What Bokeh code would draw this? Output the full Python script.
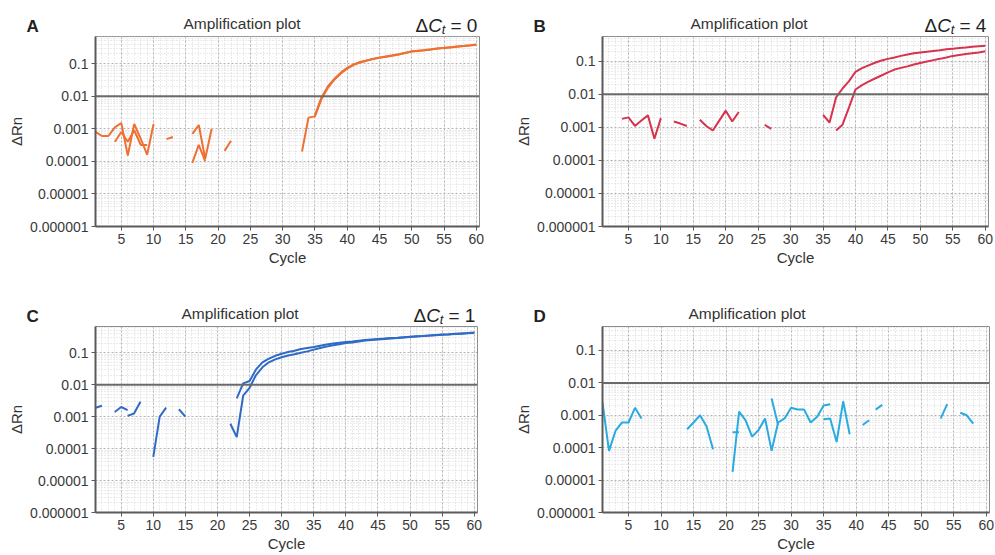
from bokeh.plotting import figure
from bokeh.models import Range1d, FixedTicker, CustomJSTickFormatter, Span, Label
from bokeh.layouts import column, row
from bokeh.core.properties import value
from bokeh.embed import file_html
from bokeh.resources import INLINE

N = float("nan")
cycles = list(range(1, 61))
x_ticks = [5, 10, 15, 20, 25, 30, 35, 40, 45, 50, 55, 60]
y_ticks = [1e-6, 1e-5, 1e-4, 1e-3, 1e-2, 1e-1]
threshold = 0.01
panel_letters = ["A", "B", "C", "D"]
delta_ct = ["0", "4", "1", None]

# Panel A (orange)
a1 = [8e-4, 6e-4, 6e-4, 1.1e-3, 1.5e-3, 1.5e-4, 1.4e-3, 5e-4, 1.6e-4, 1.4e-3,
      N, 4.8e-4, 5.6e-4, N, N, 7e-4, 1.3e-3, 1.2e-4, 1e-3, N,
      2.1e-4, 4.3e-4, N, N, N, N, N, N, N, N,
      N, N, 2e-4, 2.2e-3, 2.4e-3, 8e-3, 0.018, 0.032, 0.05, 0.07,
      0.092, 0.108, 0.122, 0.138, 0.15, 0.162, 0.175, 0.19, 0.21, 0.235,
      0.245, 0.255, 0.27, 0.29, 0.30, 0.315, 0.33, 0.345, 0.36, 0.38]
a2 = [N, N, N, 4e-4, 8e-4, 4e-4, 9e-4, 3.2e-4, 3.2e-4, N,
      N, N, N, N, N, 9e-5, 3.2e-4, 1e-4, N, N,
      N, N, N, N, N, N, N, N, N, N,
      N, N, N, N, 2.6e-3, 9e-3, 0.02, 0.034, 0.053, 0.074,
      0.095, 0.112, 0.126, 0.14, 0.153, 0.166, 0.18, 0.195, 0.215, 0.238,
      0.25, 0.262, 0.275, 0.292, 0.305, 0.32, 0.335, 0.35, 0.365, 0.385]

# Panel B (crimson)
b1 = [N, N, N, 1.8e-3, 2e-3, 1.1e-3, 1.6e-3, 2.3e-3, 4.5e-4, 1.9e-3,
      N, 1.5e-3, 1.3e-3, 1.1e-3, N, 1.7e-3, 1.1e-3, 8e-4, 1.6e-3, 3.2e-3,
      1.5e-3, 2.9e-3, N, N, N, 1.2e-3, 9e-4, N, N, N,
      N, N, N, N, 2.4e-3, 1.4e-3, 8e-3, 0.015, 0.025, 0.048,
      0.062, 0.075, 0.09, 0.105, 0.118, 0.13, 0.145, 0.16, 0.175, 0.185,
      0.195, 0.205, 0.215, 0.23, 0.24, 0.25, 0.26, 0.275, 0.285, 0.295]
b2 = [N, N, N, N, N, N, N, N, N, N,
      N, N, N, N, N, N, N, N, N, N,
      N, N, N, N, N, N, N, N, N, N,
      N, N, N, N, N, N, 8e-4, 1.2e-3, 4e-3, 0.014,
      0.019, 0.024, 0.03, 0.037, 0.046, 0.056, 0.063, 0.07, 0.08, 0.089,
      0.098, 0.108, 0.118, 0.13, 0.145, 0.155, 0.165, 0.175, 0.185, 0.2]

# Panel C (blue)
c1 = [1.9e-3, 2.2e-3, N, 1.4e-3, 2e-3, 1.6e-3, N, N, N, 5.5e-5,
      1e-3, 1.9e-3, N, 1.7e-3, 1e-3, N, N, N, N, N,
      N, 6e-4, 2.3e-4, 4.5e-3, 8e-3, 0.02, 0.035, 0.05, 0.062, 0.072,
      0.082, 0.09, 0.1, 0.11, 0.125, 0.14, 0.155, 0.17, 0.185, 0.2,
      0.21, 0.225, 0.24, 0.25, 0.26, 0.27, 0.28, 0.29, 0.3, 0.31,
      0.32, 0.33, 0.342, 0.352, 0.362, 0.372, 0.383, 0.393, 0.403, 0.415]
c2 = [N, N, N, N, N, 1.05e-3, 1.25e-3, 2.9e-3, N, N,
      N, N, N, N, N, N, N, N, N, N,
      N, N, 3.7e-3, 0.011, 0.013, 0.03, 0.05, 0.065, 0.08, 0.093,
      0.105, 0.115, 0.13, 0.14, 0.15, 0.165, 0.18, 0.195, 0.205, 0.215,
      0.225, 0.238, 0.25, 0.26, 0.27, 0.278, 0.287, 0.295, 0.305, 0.315,
      0.325, 0.335, 0.348, 0.358, 0.368, 0.378, 0.39, 0.4, 0.41, 0.425]

# Panel D (light blue, no amplification)
d1 = [2.5e-3, 8e-5, 3.3e-4, 6e-4, 6e-4, 1.7e-3, 8e-4, N, N, N,
      N, N, N, 3.7e-4, 6e-4, 1e-3, 4.5e-4, 9e-5, N, N,
      1.8e-5, 1.3e-3, 7e-4, 2.2e-4, 3.5e-4, 8e-4, 8e-5, 6e-4, 8e-4, 1.7e-3,
      1.5e-3, 1.5e-3, 6e-4, 9e-4, 2e-3, 2.2e-3, N, N, N, N,
      5e-4, 7e-4, N, N, N, N, N, N, N, N,
      N, N, 8e-4, 2.2e-3, N, N, N, N, N, N]
d2 = [N, N, N, N, N, N, N, N, N, N,
      N, N, N, N, N, N, N, N, N, N,
      3e-4, 3e-4, N, N, N, N, 3.3e-3, 5e-4, N, N,
      N, N, N, N, 7.5e-4, 8e-4, 1.5e-4, 2.7e-3, 2.6e-4, N,
      N, N, 1.5e-3, 2.1e-3, N, N, N, N, N, N,
      N, N, N, N, N, 1.2e-3, 1e-3, 5.5e-4, N, N]

colors = ["#EE7033", "#D6334E", "#2F6BC5", "#29ABE2"]
FONT = "Liberation Sans"
XR = (1, 60.5)


def make_header(idx, width, height, bl, br, title_dx):
    """Strip above a panel: panel letter, title and delta-Ct note (x in frame pixels)."""
    W = width - bl - br
    h = figure(width=width, height=height, output_backend="svg", toolbar_location=None,
               x_range=Range1d(0, W), y_range=Range1d(0, height),
               x_axis_type=None, y_axis_type=None,
               min_border_left=bl, min_border_right=br, min_border_top=0, min_border_bottom=0)
    h.grid.visible = False
    h.outline_line_color = None
    h.background_fill_color = "white"
    h.border_fill_color = "white"
    # letter: lives in the left border, so it is attached to the left side panel
    h.add_layout(Label(x=-69, y=0.5, text=panel_letters[idx], text_font=FONT,
                       text_font_size="17px", text_font_style="bold",
                       text_color="#222222", text_baseline="bottom"), "left")
    # title
    h.text(x=[title_dx], y=[13.5], text=["Amplification plot"], text_font=value(FONT),
           text_font_size=value("15.5px"), text_color="#333333",
           text_align="left", text_baseline="middle")
    dct = delta_ct[idx]
    if dct is not None:
        x0 = W - 64
        kw = dict(text_font=value(FONT), text_color="#222222", text_align="left",
                  text_baseline="alphabetic")
        h.text(x=[x0], y=[11], text=["\u0394"], text_font_size=value("19px"), **kw)
        h.text(x=[x0 + 12.7], y=[11], text=["C"], text_font_size=value("19px"),
               text_font_style=value("italic"), **kw)
        h.text(x=[x0 + 26.2], y=[7], text=["t"], text_font_size=value("13px"),
               text_font_style=value("italic"), **kw)
        h.text(x=[x0 + 35], y=[11], text=["= " + dct], text_font_size=value("19px"), **kw)
    return h


def make_panel(idx, series, ytop, width, height, bl, br, bb):
    color = colors[idx]
    p = figure(width=width, height=height, output_backend="svg", toolbar_location=None,
               x_range=Range1d(*XR), y_range=Range1d(1e-6, ytop), y_axis_type="log",
               min_border_left=bl, min_border_right=br, min_border_top=0, min_border_bottom=bb)
    p.background_fill_color = "white"
    p.border_fill_color = "white"
    p.outline_line_color = "#8c8c8c"
    p.outline_line_width = 1

    p.xaxis.ticker = FixedTicker(ticks=x_ticks, minor_ticks=cycles)
    minor_y = [k * 10.0 ** e for e in range(-6, 0) for k in range(2, 10)]
    p.yaxis.ticker = FixedTicker(ticks=y_ticks, minor_ticks=minor_y)
    p.yaxis.formatter = CustomJSTickFormatter(
        code="const d = Math.max(0, -Math.round(Math.log10(tick))); return tick.toFixed(d);")
    p.xaxis.axis_label = "Cycle"
    p.yaxis.axis_label = "\u0394Rn"
    for ax in (p.xaxis[0], p.yaxis[0]):
        ax.axis_line_color = "#5a5a5a"
        ax.axis_line_width = 2
        ax.major_tick_line_color = "#5a5a5a"
        ax.major_tick_out = 4
        ax.major_tick_in = 0
        ax.minor_tick_line_color = None
        ax.major_label_text_font = FONT
        ax.major_label_text_font_size = "14px"
        ax.major_label_text_color = "#3a3a3a"
        ax.major_label_standoff = 3
        ax.axis_label_text_font = FONT
        ax.axis_label_text_font_size = "15px"
        ax.axis_label_text_font_style = "normal"
        ax.axis_label_text_color = "#333333"
        ax.axis_label_standoff = 2

    for g in (p.xgrid[0], p.ygrid[0]):
        g.grid_line_color = "#b4b4b4"
        g.grid_line_dash = "2 2"
        g.grid_line_width = 1
        g.minor_grid_line_color = "#d6d6d6"
        g.minor_grid_line_dash = "1 2"
        g.minor_grid_line_width = 1

    p.add_layout(Span(location=threshold, dimension="width",
                      line_color="#6a6a6a", line_width=2))

    for s in series:
        p.line(cycles, s, line_color=color, line_width=2)
    return p


# top row: header 36 px, panel 244 px ; bottom row: header 46 px, panel 228 px
ha = make_header(0, 497, 36, 95, 18, 88)
hb = make_header(1, 498, 36, 105, 7, 88)
hc = make_header(2, 497, 46, 95, 20, 86)
hd = make_header(3, 498, 46, 105, 6, 86)

pa = make_panel(0, [a1, a2], 0.68, 497, 244, 95, 18, 54)
pb = make_panel(1, [b1, b2], 0.56, 498, 244, 105, 7, 54)
pc = make_panel(2, [c1, c2], 0.66, 497, 228, 95, 20, 41)
pd = make_panel(3, [d1, d2], 0.55, 498, 228, 105, 6, 41)

layout = column(row(column(ha, pa), column(hb, pb)),
                row(column(hc, pc), column(hd, pd)))
open("out.html", "w").write(file_html(layout, INLINE))
